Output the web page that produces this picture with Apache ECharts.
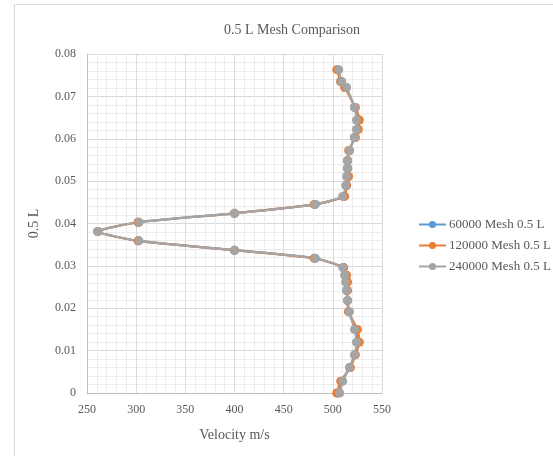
<!DOCTYPE html>
<html>
<head>
<meta charset="utf-8">
<script src="https://cdn.jsdelivr.net/npm/echarts@6/dist/echarts.min.js"></script>
<style>
  html, body { margin: 0; padding: 0; background: #fff; }
  #chart { width: 553px; height: 456px; }
</style>
</head>
<body>
<div id="chart"></div>
<script>
// heights (0.5 L) shared by the three meshes
const heights = [0, 0.0028, 0.0060, 0.0090, 0.0120, 0.0150, 0.0192, 0.0218, 0.0242, 0.0262, 0.0278, 0.0296,
  0.0318, 0.0337, 0.0359, 0.0381, 0.0403, 0.0424, 0.0445, 0.0464, 0.0490, 0.0511, 0.0530, 0.0548,
  0.0572, 0.0603, 0.0622, 0.0644, 0.0674, 0.0721, 0.0735, 0.0763]

const mesh60k = [505, 509, 517, 522, 525, 523, 516, 515, 514, 514, 513, 511,
  482, 400, 302, 261, 302, 400, 482, 511, 514, 515, 515, 515,
  517, 522, 525, 526, 522, 513, 508, 505]

const mesh120k = [504, 508, 518, 523, 527, 525, 516, 515, 515, 515, 514, 511,
  481, 400, 302, 261, 302, 400, 481, 512, 514, 516, 515, 515,
  516, 523, 526, 527, 523, 512, 508, 504]

const mesh240k = [507, 510, 517, 522, 524, 522, 517, 515, 514, 513, 512, 510,
  482, 400, 303, 261, 303, 400, 482, 510, 513, 514, 515, 515,
  517, 522, 524, 524, 522, 514, 509, 506]

const seriesNames = ['60000 Mesh 0.5 L', '120000 Mesh 0.5 L', '240000 Mesh 0.5 L']
const seriesColors = ['#5b9bd5', '#ed7d31', '#a5a5a5']

const pairs = vals => vals.map((v, i) => [v, heights[i]])

const font = 'Liberation Serif'

const option = {
  animation: false,
  textStyle: { fontFamily: font },
  graphic: [{
    type: 'rect',
    shape: { x: 14.5, y: 4.5, width: 700, height: 600 },
    style: { fill: 'none', stroke: '#d9d9d9', lineWidth: 1 },
    silent: true
  }],
  title: {
    text: '0.5 L Mesh Comparison',
    left: 287,
    top: 18,
    textAlign: 'center',
    textStyle: { fontFamily: font, fontSize: 14, fontWeight: 'normal', color: '#595959' }
  },
  grid: { left: 87, top: 54, right: 171, bottom: 63 },
  legend: {
    orient: 'vertical',
    left: 413,
    top: 213,
    itemGap: 8,
    itemWidth: 27,
    itemHeight: 9,
    textStyle: { fontFamily: font, fontSize: 13, color: '#595959', padding: [0, 0, 0, -2] },
    data: seriesNames
  },
  xAxis: {
    type: 'value',
    min: 250,
    max: 550,
    interval: 50,
    name: 'Velocity m/s',
    nameLocation: 'middle',
    nameGap: 35,
    nameTextStyle: { fontFamily: font, fontSize: 14, color: '#595959' },
    axisLine: { lineStyle: { color: '#bfbfbf' } },
    axisTick: { show: false },
    axisLabel: { fontFamily: font, fontSize: 12, color: '#595959', margin: 11 },
    splitLine: { lineStyle: { color: '#d9d9d9' } },
    minorTick: { show: false, splitNumber: 5 },
    minorSplitLine: { show: true, lineStyle: { color: '#ececec' } }
  },
  yAxis: {
    type: 'value',
    min: 0,
    max: 0.08,
    interval: 0.01,
    name: '0.5 L',
    nameLocation: 'middle',
    nameGap: 46,
    nameTextStyle: { fontFamily: font, fontSize: 14, color: '#595959' },
    axisLine: { show: true, lineStyle: { color: '#bfbfbf' } },
    axisTick: { show: false },
    axisLabel: { fontFamily: font, fontSize: 12, color: '#595959', margin: 11 },
    splitLine: { lineStyle: { color: '#d9d9d9' } },
    minorTick: { show: false, splitNumber: 5 },
    minorSplitLine: { show: true, lineStyle: { color: '#ececec' } }
  },
  series: [mesh60k, mesh120k, mesh240k].map((vals, i) => ({
    name: seriesNames[i],
    type: 'line',
    data: pairs(vals),
    smooth: 0.2,
    symbol: 'circle',
    symbolSize: 9,
    color: seriesColors[i],
    lineStyle: { width: 2.2 },
    itemStyle: { color: seriesColors[i] }
  }))
}

const mychart = echarts.init(document.getElementById('chart'))
mychart.setOption(option)
</script>
</body>
</html>
